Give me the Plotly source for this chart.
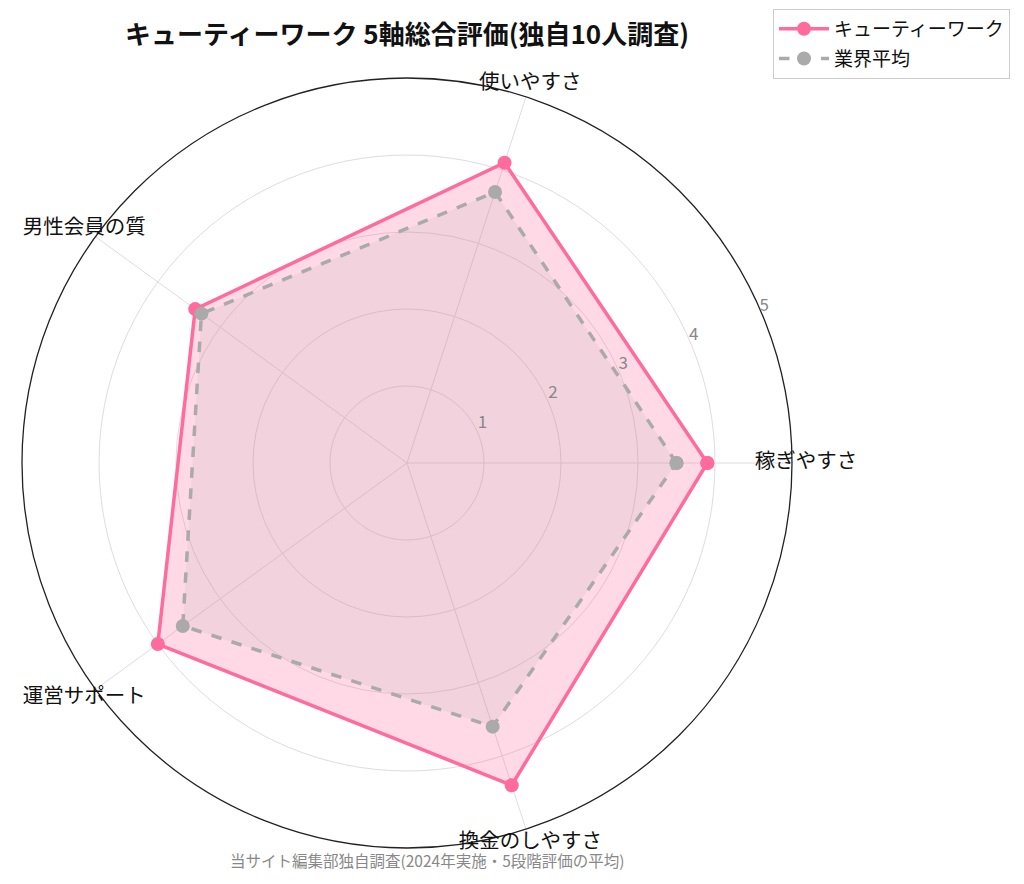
import plotly.graph_objects as go

# 5軸の評価データ
categories = ['稼ぎやすさ', '使いやすさ', '男性会員の質', '運営サポート', '換金のしやすさ']
cutie_scores = [3.9, 4.1, 3.4, 4.0, 4.4]
industry_avg = [3.5, 3.7, 3.3, 3.6, 3.6]
r_ticks = [1, 2, 3, 4, 5]

FONT = 'Noto Sans CJK JP'
PINK = '#FF6B9D'
GRAY = '#AAAAAA'

# ページのbody余白(8px)を考慮した図のサイズ
W, H = 1016, 876

def px(x):
    return x / W

def py(y):
    return 1 - y / H

# 多角形を閉じる
theta_closed = categories + categories[:1]

fig = go.Figure()

series = [
    ('キューティーワーク', cutie_scores, PINK, 'solid', 'rgba(255,107,157,0.25)'),
    ('業界平均', industry_avg, GRAY, 'dash', 'rgba(170,170,170,0.15)'),
]
for name, vals, color, dash, fillc in series:
    r_closed = vals + vals[:1]
    # 塗りつぶし（凡例には出さない）
    fig.add_trace(go.Scatterpolar(
        r=r_closed, theta=theta_closed, mode='none',
        fill='toself', fillcolor=fillc,
        showlegend=False, hoverinfo='skip', legendgroup=name,
    ))
    # 線とマーカー
    fig.add_trace(go.Scatterpolar(
        r=r_closed, theta=theta_closed, mode='lines+markers',
        name=name, legendgroup=name,
        line=dict(color=color, width=3.5, dash=dash),
        marker=dict(color=color, size=14),
    ))

# 軸ラベル用の透明なpolar（円より少し外側に文字を置く）
fig.add_trace(go.Scatterpolar(
    r=[5.3] * len(categories),
    theta=categories,
    mode='text',
    text=categories,
    textfont=dict(family=FONT, size=20.5, color='#111111'),
    showlegend=False,
    hoverinfo='skip',
    subplot='polar2',
))

# 目盛りラベル（22.5度方向、少し右上にずらしたpolar）
fig.add_trace(go.Scatterpolar(
    r=r_ticks,
    theta=[22.5] * len(r_ticks),
    mode='text',
    text=[str(t) for t in r_ticks],
    textfont=dict(family=FONT, size=17, color='#888888'),
    showlegend=False,
    hoverinfo='skip',
    subplot='polar3',
))

hidden_angular = dict(direction='counterclockwise', rotation=0,
                      showticklabels=False, ticks='', showline=False, showgrid=False)

fig.update_layout(
    width=W, height=H,
    margin=dict(l=0, r=0, t=0, b=0),
    paper_bgcolor='white',
    font=dict(family=FONT),
    title=dict(
        text='<b>キューティーワーク 5軸総合評価(独自10人調査)</b>',
        x=px(399), xanchor='center',
        y=py(27), yanchor='middle',
        font=dict(family=FONT, size=26, color='#111111'),
    ),
    polar=dict(
        domain=dict(x=[px(14), px(784)], y=[py(840), py(70)]),
        bgcolor='white',
        angularaxis=dict(
            direction='counterclockwise', rotation=0,
            showticklabels=False, ticks='',
            showline=True, linecolor='#222222', linewidth=1.3,
            gridcolor='#DDDDDD', gridwidth=1,
        ),
        radialaxis=dict(
            range=[0, 5], tickvals=r_ticks,
            showticklabels=False, showline=False, ticks='',
            gridcolor='#DDDDDD', gridwidth=1,
        ),
    ),
    polar2=dict(
        domain=dict(x=[px(0), px(798)], y=[py(854), py(56)]),
        bgcolor='rgba(0,0,0,0)',
        angularaxis=hidden_angular,
        radialaxis=dict(range=[0, 5.3], visible=False, showgrid=False),
    ),
    polar3=dict(
        domain=dict(x=[px(19), px(789)], y=[py(829.5), py(59.5)]),
        bgcolor='rgba(0,0,0,0)',
        angularaxis=hidden_angular,
        radialaxis=dict(range=[0, 5.05], visible=False, showgrid=False),
    ),
    legend=dict(
        x=px(1002), xanchor='right',
        y=0.999, yanchor='top',
        bgcolor='white', bordercolor='#CCCCCC', borderwidth=1,
        itemwidth=50, tracegroupgap=2,
        font=dict(family=FONT, size=19, color='#111111'),
    ),
    annotations=[dict(
        text='当サイト編集部独自調査(2024年実施・5段階評価の平均)',
        x=px(419), y=py(852),
        xref='paper', yref='paper', xanchor='center', yanchor='middle',
        showarrow=False,
        font=dict(family=FONT, size=15.5, color='#888888'),
    )],
)

fig.write_html('out.html')
